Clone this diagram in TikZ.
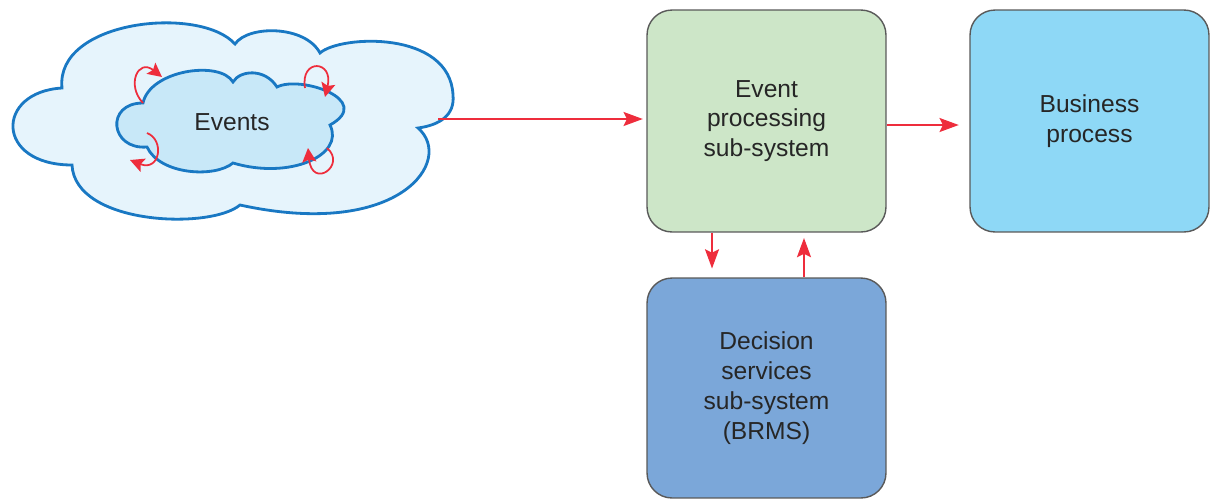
\documentclass[tikz,border=0pt]{standalone}
\usepackage{fontspec}
\setmainfont{Liberation Sans}
\usetikzlibrary{arrows.meta}

\definecolor{cloudline}{RGB}{25,120,195}
\definecolor{cloudouter}{RGB}{230,244,252}
\definecolor{cloudinner}{RGB}{200,232,248}
\definecolor{epgreen}{RGB}{205,230,200}
\definecolor{bpblue}{RGB}{142,216,246}
\definecolor{dsblue}{RGB}{123,167,217}
\definecolor{flowred}{RGB}{238,45,60}

\begin{document}
\begin{tikzpicture}[x=0.02cm, y=-0.02cm,
    main node/.style={rectangle, rounded corners=0.5cm, draw=black!65, line width=0.8pt,
                      minimum width=4.78cm, minimum height=4.44cm, align=center,
                      text=black!85, font=\fontsize{14}{17}\selectfont},
    flow/.style={draw=flowred, line width=1.1pt, -{Stealth[length=11pt, width=8pt, inset=2pt]}},
    swirl/.style={draw=flowred, line width=1pt, -{Stealth[length=8pt, width=8pt, inset=1.5pt]}},
    cloud line/.style={draw=cloudline, line width=1.6pt}]

  \useasboundingbox (0,0) rectangle (1210,498);

  % event cloud
  \path[cloud line, fill=cloudouter] (72,165) .. controls (-5,165) and (-5,92) .. (62,88)
    .. controls (55,20) and (200,5) .. (235,44)
    .. controls (248,25) and (305,25) .. (320,53)
    .. controls (340,35) and (450,30) .. (453,95)
    .. controls (455,115) and (440,125) .. (418,128)
    .. controls (455,160) and (400,240) .. (240,205)
    .. controls (210,230) and (75,225) .. (72,165) -- cycle;
  \path[cloud line, fill=cloudinner] (143,103) .. controls (150,70) and (220,60) .. (233,82)
    .. controls (240,70) and (265,68) .. (277,87)
    .. controls (300,75) and (375,100) .. (330,125)
    .. controls (345,155) and (290,180) .. (233,163)
    .. controls (215,178) and (160,175) .. (147,147)
    .. controls (110,150) and (105,103) .. (143,103) -- cycle;

  \draw[swirl] (143,103) .. controls (126,85) and (138,58) .. (162,77);
  \draw[swirl] (305,88) .. controls (300,58) and (334,60) .. (325,97);
  \draw[swirl] (147,133) .. controls (165,140) and (160,172) .. (130,160);
  \draw[swirl] (327,148) .. controls (347,165) and (312,190) .. (308,148);

  \node[text=black!85, font=\fontsize{14}{17}\selectfont] (events) at (232,122) {Events};
  \coordinate (cloudout) at (438,119);

  \node[main node, fill=epgreen] (ep) at (766.5,121) {Event\\processing\\sub-system};
  \node[main node, fill=bpblue] (bp) at (1089.5,121) {Business\\process};
  \node[main node, fill=dsblue, minimum height=4.4cm] (ds) at (766.5,388) {Decision\\services\\sub-system\\(BRMS)};

  \path[every edge/.style={flow}]
  (cloudout) edge [shorten >=2pt] (cloudout -| ep.west)
  ([yshift=-0.08cm]ep.east) edge [shorten >=6pt] ([yshift=-0.08cm]bp.west)
  ([xshift=-1.09cm]ep.south) edge [shorten >=5pt] ([xshift=-1.09cm]ds.north)
  ([xshift=0.75cm]ds.north) edge [shorten >=3pt] ([xshift=0.75cm]ep.south);

\end{tikzpicture}
\end{document}
